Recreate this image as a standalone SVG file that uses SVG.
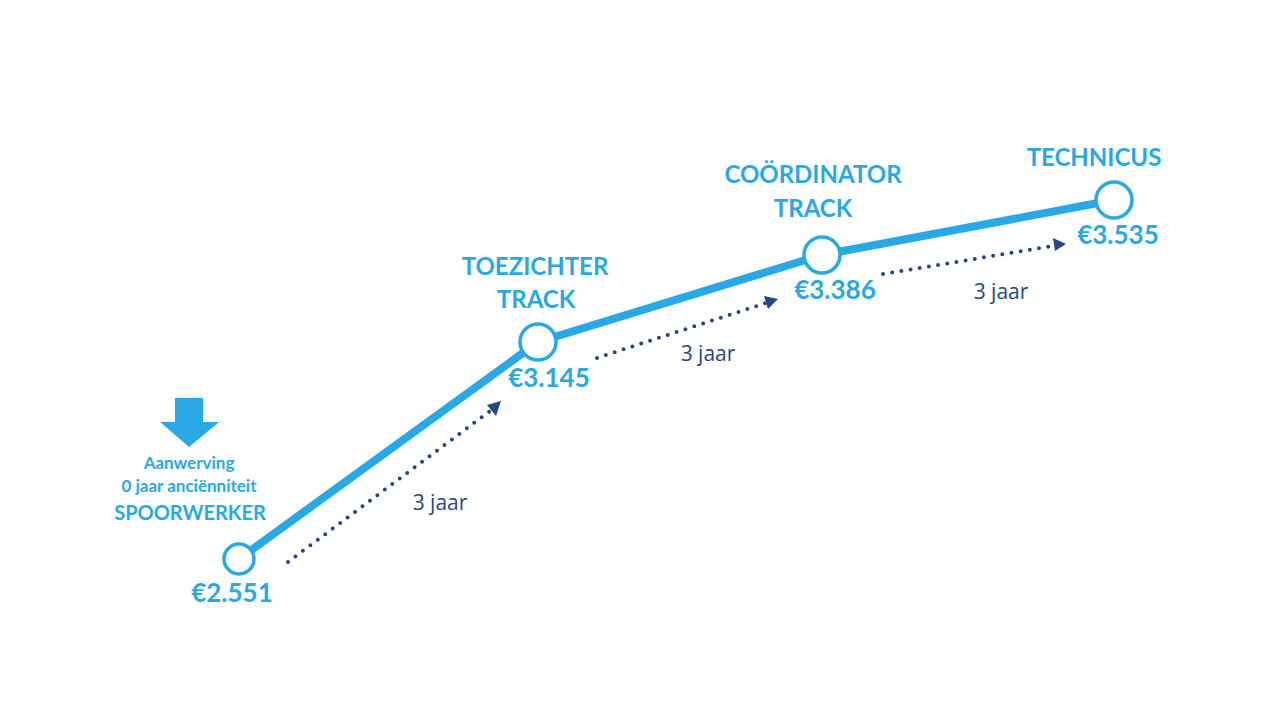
<svg xmlns="http://www.w3.org/2000/svg" width="1280" height="720" viewBox="0 0 1280 720">
<style>
.lbl{font-family:"Lato","Open Sans","Liberation Sans",sans-serif;font-weight:bold;fill:#29a8e6;text-anchor:middle}
.val{font-size:26px}
.ttl{font-size:24px}
.yr{font-family:"Open Sans","Lato","Liberation Sans",sans-serif;font-size:21px;fill:#28467f;text-anchor:middle}
.node{fill:#fff;stroke:#29a8e6;stroke-width:3.5}
.dots{fill:none;stroke:#28467f;stroke-width:4;stroke-linecap:round;stroke-dasharray:0 9.3}
</style>
<rect width="1280" height="720" fill="#fff"/>
<g id="connectors">
<polyline points="239,559 538,342 822,255 1114,200" fill="none" stroke="#29a8e6" stroke-width="8" stroke-linejoin="round"/>
<line class="dots" x1="288" y1="562" x2="490" y2="411"/>
<line class="dots" x1="597" y1="358" x2="766" y2="303"/>
<line class="dots" x1="883" y1="274" x2="1053" y2="246"/>
</g>
<g id="arrowheads" fill="#28467f">
<polygon points="501,401 487,405 496,416"/>
<polygon points="778,299 764,296 768,309"/>
<polygon points="1066,244 1053,238 1055,251"/>
</g>
<g id="start-marker">
<polygon points="175,398 203,398 203,422 219,422 189,447 160,422 175,422" fill="#29a8e6"/>
<text class="lbl" x="189" y="469" font-size="17">Aanwerving</text>
<text class="lbl" x="189" y="492" font-size="17">0 jaar anciënniteit</text>
<text class="lbl" x="190" y="520" font-size="20">SPOORWERKER</text>
</g>
<g id="node-spoorwerker">
<circle class="node" cx="239" cy="559" r="15"/>
<text class="lbl val" x="232" y="602">€2.551</text>
</g>
<g id="node-toezichter">
<circle class="node" cx="538" cy="342" r="18"/>
<text class="lbl ttl" x="535" y="275">TOEZICHTER</text>
<text class="lbl ttl" x="536" y="308">TRACK</text>
<text class="lbl val" x="549" y="387">€3.145</text>
</g>
<g id="node-coordinator">
<circle class="node" cx="822" cy="255" r="18"/>
<text class="lbl ttl" x="813" y="183">COÖRDINATOR</text>
<text class="lbl ttl" x="813" y="217">TRACK</text>
<text class="lbl val" x="835" y="299">€3.386</text>
</g>
<g id="node-technicus">
<circle class="node" cx="1114" cy="200" r="18"/>
<text class="lbl ttl" x="1094" y="166">TECHNICUS</text>
<text class="lbl val" x="1118" y="244">€3.535</text>
</g>
<g id="durations">
<text class="yr" x="440" y="510">3 jaar</text>
<text class="yr" x="708" y="361">3 jaar</text>
<text class="yr" x="1001" y="299">3 jaar</text>
</g>
</svg>
